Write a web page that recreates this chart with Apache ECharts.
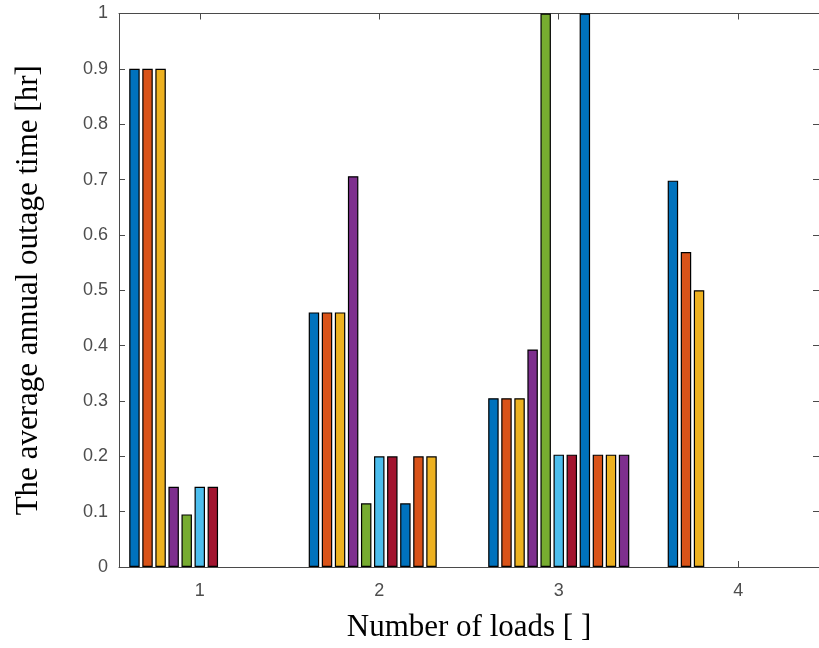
<!DOCTYPE html>
<html>
<head>
<meta charset="utf-8">
<script src="https://cdn.jsdelivr.net/npm/echarts@6/dist/echarts.min.js"></script>
<style>
  html, body { margin: 0; padding: 0; background: #fff; }
  #chart { width: 819px; height: 648px; }
</style>
</head>
<body>
<div id="chart"></div>
<script>
// Number of loads on the horizontal axis
const loads = [1, 2, 3, 4];

// Average annual outage time [hr], one array per bar series (0 = no bar)
const s1  = [0.900, 0.460, 0.305, 0.698];
const s2  = [0.900, 0.460, 0.305, 0.569];
const s3  = [0.900, 0.460, 0.305, 0.500];
const s4  = [0.145, 0.706, 0.393, 0];
const s5  = [0.095, 0.115, 1.000, 0];
const s6  = [0.145, 0.200, 0.203, 0];
const s7  = [0.145, 0.200, 0.203, 0];
const s8  = [0,     0.115, 1.000, 0];
const s9  = [0,     0.200, 0.203, 0];
const s10 = [0,     0.200, 0.203, 0];
const s11 = [0,     0,     0.203, 0];

const seriesValues = [s1, s2, s3, s4, s5, s6, s7, s8, s9, s10, s11];

// Default colour order, cycled over the series
const palette = ['#0072BD', '#D95319', '#EDB120', '#7E2F8E', '#77AC30', '#4DBEEE', '#A2142F'];

const yTicks = [0, 0.1, 0.2, 0.3, 0.4, 0.5, 0.6, 0.7, 0.8, 0.9, 1];

const axisColor = '#4a4a4a';
const labelFont = { fontFamily: 'Liberation Sans, Arial, sans-serif', fontSize: 18, color: '#4d4d4d' };
const titleFont = { fontFamily: 'Liberation Serif, Times New Roman, serif', fontSize: 31, color: '#000' };

const xMin = 0.55, xMax = 4.45;

const chart = echarts.init(document.getElementById('chart'), null, { renderer: 'canvas' });

const series = seriesValues.map((vals, i) => ({
  type: 'bar',
  xAxisIndex: 0,
  yAxisIndex: 0,
  barGap: '25%',
  barCategoryGap: '21.4%',
  itemStyle: { color: palette[i % palette.length], borderColor: '#000', borderWidth: 1.2 },
  emphasis: { disabled: true },
  data: vals.map((v, k) => [loads[k], v === 0 ? null : v])
}));

chart.setOption({
  animation: false,
  backgroundColor: '#fff',
  grid: { left: 119, top: 13.5, width: 701, height: 554, containLabel: false },
  xAxis: [
    {
      type: 'value', position: 'bottom', min: xMin, max: xMax,
      name: 'Number of loads [ ]', nameLocation: 'middle', nameGap: 45,
      nameTextStyle: titleFont,
      axisLine: { show: true, onZero: false, lineStyle: { color: axisColor, width: 1 } },
      axisTick: { show: true, inside: true, length: 6, customValues: loads, lineStyle: { color: axisColor } },
      axisLabel: { customValues: loads, margin: 15, ...labelFont },
      splitLine: { show: false }
    },
    {
      type: 'value', position: 'top', min: xMin, max: xMax,
      axisLine: { show: true, onZero: false, lineStyle: { color: axisColor, width: 1 } },
      axisTick: { show: true, inside: true, length: 6, customValues: loads, lineStyle: { color: axisColor } },
      axisLabel: { show: false },
      splitLine: { show: false }
    }
  ],
  yAxis: [
    {
      type: 'value', position: 'left', min: 0, max: 1, interval: 0.1,
      name: 'The average annual outage time [hr]', nameLocation: 'middle', nameGap: 75,
      nameTextStyle: titleFont,
      axisLine: { show: true, lineStyle: { color: axisColor, width: 1 } },
      axisTick: { show: true, inside: true, length: 6, customValues: yTicks, lineStyle: { color: axisColor } },
      axisLabel: { customValues: yTicks, margin: 11, ...labelFont },
      splitLine: { show: false }
    },
    {
      type: 'value', position: 'right', min: 0, max: 1, interval: 0.1,
      axisLine: { show: true, lineStyle: { color: axisColor, width: 1 } },
      axisTick: { show: true, inside: true, length: 6, customValues: yTicks, lineStyle: { color: axisColor } },
      axisLabel: { show: false },
      splitLine: { show: false }
    }
  ],
  series: series
});
</script>
</body>
</html>
